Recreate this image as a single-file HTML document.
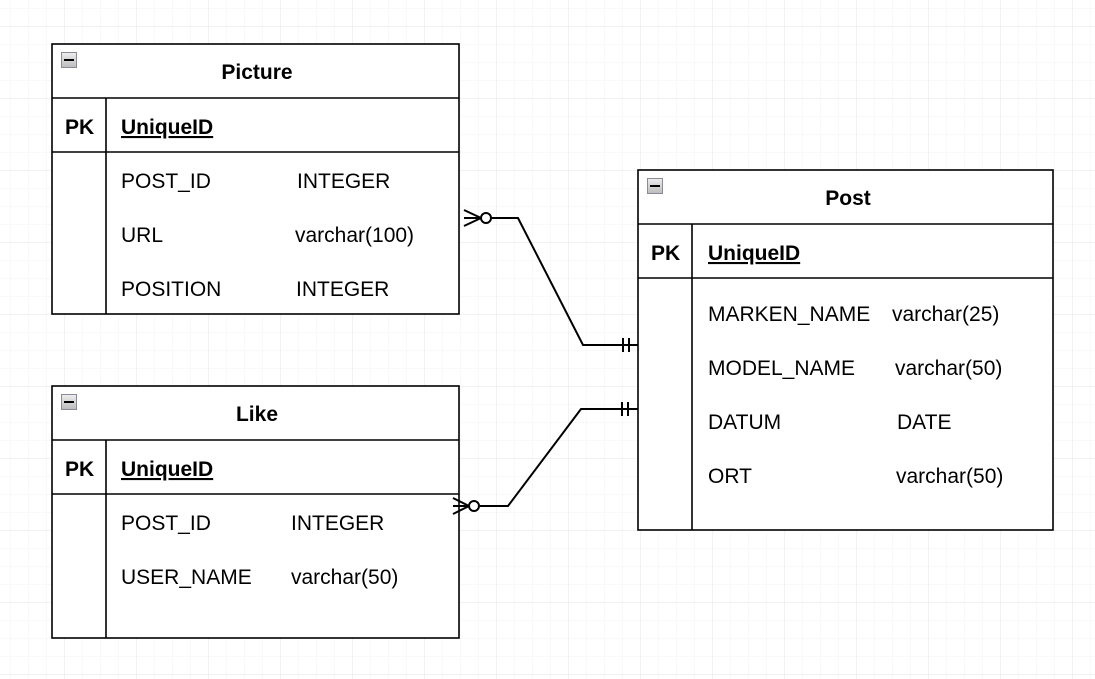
<!DOCTYPE html>
<html><head><meta charset="utf-8"><style>
body{margin:0;width:1095px;height:679px;overflow:hidden;background:#fff;font-family:"Liberation Sans",Arial,sans-serif;}
svg{position:absolute;left:0;top:0}
</style></head><body>
<svg width="1095" height="679" xmlns="http://www.w3.org/2000/svg" font-family="Liberation Sans, Arial, sans-serif">
<defs>
<pattern id="g" x="64" y="26" width="18" height="18" patternUnits="userSpaceOnUse"><path d="M0 0H18M0 0V18" stroke="#f3f3f3" stroke-width="1" fill="none"/></pattern>
<pattern id="G" x="64" y="26" width="72" height="72" patternUnits="userSpaceOnUse"><path d="M0 0H72M0 0V72" stroke="#e4e4e4" stroke-width="1" fill="none"/></pattern>
<linearGradient id="b" x1="0" y1="0" x2="0" y2="1"><stop offset="0" stop-color="#eee"/><stop offset="1" stop-color="#bbb"/></linearGradient>
</defs>
<rect width="1095" height="679" fill="url(#g)"/>
<rect width="1095" height="679" fill="url(#G)"/>
<g stroke="#000" stroke-width="1.6" fill="#fff">
<rect x="52" y="44" width="407" height="270"/>
<line x1="52" y1="98" x2="459" y2="98"/><line x1="52" y1="152" x2="459" y2="152"/><line x1="106" y1="98" x2="106" y2="314"/>
<rect x="52" y="386" width="407" height="252"/>
<line x1="52" y1="440" x2="459" y2="440"/><line x1="52" y1="494" x2="459" y2="494"/><line x1="106" y1="440" x2="106" y2="638"/>
<rect x="638" y="170" width="415" height="360"/>
<line x1="638" y1="224" x2="1053" y2="224"/><line x1="638" y1="278" x2="1053" y2="278"/><line x1="692" y1="224" x2="692" y2="530"/>
</g>
<g stroke="#8a8a99" fill="url(#b)"><rect x="61.5" y="52.5" width="15" height="15"/><rect x="61.5" y="394.5" width="15" height="15"/><rect x="647.5" y="178.5" width="15" height="15"/></g>
<g stroke="#000" stroke-width="2"><line x1="64" y1="60" x2="74" y2="60"/><line x1="64" y1="402" x2="74" y2="402"/><line x1="650" y1="186" x2="660" y2="186"/></g>
<g stroke="#000" stroke-width="2" fill="none">
<polyline points="492,218 518,218 583,345 638,345"/>
<path d="M464 210L481 218L464 226M464 218H481"/><circle cx="486" cy="218" r="5" fill="#fff"/>
<line x1="623" y1="338" x2="623" y2="352"/><line x1="629" y1="338" x2="629" y2="352"/>
<polyline points="480,506 508,506 581,409 638,409"/>
<path d="M453 498L469 506L453 514M453 506H469"/><circle cx="474" cy="506" r="5" fill="#fff"/>
<line x1="622" y1="402" x2="622" y2="416"/><line x1="628" y1="402" x2="628" y2="416"/>
</g>
<g font-size="21" fill="#000">
<text x="257" y="79" text-anchor="middle" font-weight="bold">Picture</text>
<text x="65" y="134" font-weight="bold">PK</text>
<text x="121" y="134" font-weight="bold" text-decoration="underline">UniqueID</text>
<text x="121" y="188">POST_ID</text><text x="297" y="188">INTEGER</text>
<text x="121" y="242">URL</text><text x="295" y="242">varchar(100)</text>
<text x="121" y="296">POSITION</text><text x="296" y="296">INTEGER</text>
<text x="257" y="421" text-anchor="middle" font-weight="bold">Like</text>
<text x="65" y="476" font-weight="bold">PK</text>
<text x="121" y="476" font-weight="bold" text-decoration="underline">UniqueID</text>
<text x="121" y="530">POST_ID</text><text x="291" y="530">INTEGER</text>
<text x="121" y="584">USER_NAME</text><text x="291" y="584">varchar(50)</text>
<text x="848" y="205" text-anchor="middle" font-weight="bold">Post</text>
<text x="651" y="260" font-weight="bold">PK</text>
<text x="708" y="260" font-weight="bold" text-decoration="underline">UniqueID</text>
<text x="708" y="321">MARKEN_NAME</text><text x="892" y="321">varchar(25)</text>
<text x="708" y="375">MODEL_NAME</text><text x="895" y="375">varchar(50)</text>
<text x="708" y="429">DATUM</text><text x="897" y="429">DATE</text>
<text x="708" y="483">ORT</text><text x="896" y="483">varchar(50)</text>
</g>
</svg>
</body></html>
